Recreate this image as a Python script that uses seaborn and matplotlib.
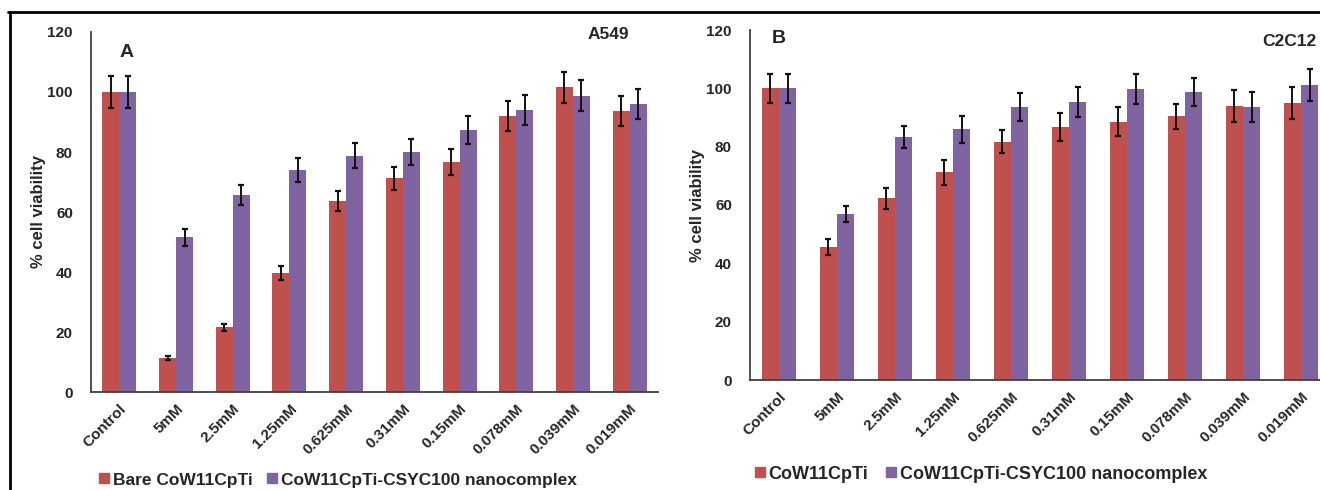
import numpy as np
import pandas as pd
import matplotlib
matplotlib.use("Agg")
import matplotlib.pyplot as plt
import seaborn as sns
from matplotlib.lines import Line2D

concs = ["Control", "5mM", "2.5mM", "1.25mM", "0.625mM", "0.31mM",
         "0.15mM", "0.078mM", "0.039mM", "0.019mM"]

# panel A - A549
a_bare = [100, 11.4, 21.6, 39.6, 63.7, 71.2, 76.6, 92.1, 101.6, 93.7]
a_bare_err = [5.2, 0.7, 1.2, 2.3, 3.4, 3.9, 4.3, 5.0, 5.2, 5.0]
a_nano = [100, 51.6, 65.7, 74.0, 78.8, 80.1, 87.3, 93.9, 98.7, 96.0]
a_nano_err = [5.2, 2.8, 3.4, 4.0, 4.1, 4.3, 4.7, 5.0, 5.2, 5.0]

# panel B - C2C12
b_bare = [100, 45.5, 62.3, 71.3, 81.7, 86.8, 88.5, 90.5, 93.8, 95.0]
b_bare_err = [5.0, 2.7, 3.5, 4.3, 4.0, 4.8, 5.0, 4.3, 5.5, 5.5]
b_nano = [100, 56.8, 83.3, 86.0, 93.6, 95.3, 99.8, 98.8, 93.6, 101.0]
b_nano_err = [5.0, 2.7, 3.8, 4.6, 4.7, 5.2, 5.0, 4.7, 5.0, 5.5]

red = "#C0504D"
purple = "#8064A2"

sns.set_style("white")
plt.rcParams["font.family"] = ["Liberation Sans", "DejaVu Sans"]
plt.rcParams["font.weight"] = "bold"

fig = plt.figure(figsize=(13.2, 4.9), dpi=100)
axA = fig.add_axes([91 / 1320, 0.2, 567 / 1320, 360 / 490])
axB = fig.add_axes([750 / 1320, 110 / 490, 580 / 1320, 350 / 490])


def panel(ax, bare, bare_err, nano, nano_err, names):
    df = pd.DataFrame({
        "conc": concs * 2,
        "series": [names[0]] * len(concs) + [names[1]] * len(concs),
        "value": bare + nano,
    })
    sns.barplot(data=df, x="conc", y="value", hue="series", order=concs,
                palette=[red, purple], width=0.6, saturation=1, linewidth=0,
                errorbar=None, legend=False, ax=ax)
    for cont, err in zip(ax.containers, [bare_err, nano_err]):
        xs = [b.get_x() + b.get_width() / 2 for b in cont]
        ys = [b.get_height() for b in cont]
        ax.errorbar(xs, ys, yerr=err, fmt="none", ecolor="#111111",
                    elinewidth=1.4, capsize=2.5, capthick=1.6)
    ax.set_ylim(0, 120)
    ax.set_xlim(-0.5, 9.5)
    ax.set_yticks(range(0, 121, 20))
    ax.set_xticks(np.arange(-0.5, 9.6, 1.0), minor=True)
    ax.tick_params(axis="x", which="major", length=0, pad=7)
    ax.tick_params(axis="x", which="minor", length=4, width=1, color="#404040", direction="out")
    ax.tick_params(axis="y", length=4, width=1, color="#404040", direction="out", pad=9)
    ax.set_xticks(range(len(concs)))
    ax.set_xticklabels(concs, rotation=45, ha="right", rotation_mode="anchor",
                       fontsize=11, fontweight="bold")
    for lab in ax.get_yticklabels():
        lab.set_fontsize(11)
        lab.set_fontweight("bold")
    for s in ["top", "right"]:
        ax.spines[s].set_visible(False)
    for s in ["left", "bottom"]:
        ax.spines[s].set_color("#404040")
        ax.spines[s].set_linewidth(1.3)
    ax.set_xlabel("")
    ax.set_ylabel("% cell viability", fontsize=12, fontweight="bold", labelpad=1)


panel(axA, a_bare, a_bare_err, a_nano, a_nano_err,
      ["Bare CoW11CpTi", "CoW11CpTi-CSYC100 nanocomplex"])
panel(axB, b_bare, b_bare_err, b_nano, b_nano_err,
      ["CoW11CpTi", "CoW11CpTi-CSYC100 nanocomplex"])

axA.text(0.12, 113, "A", fontsize=14, fontweight="bold", ha="center", va="center")
axA.text(8.62, 119, "A549", fontsize=12.5, fontweight="bold", ha="center", va="center")
axB.text(0.0, 117, "B", fontsize=14, fontweight="bold", ha="center", va="center")
axB.text(8.8, 116, "C2C12", fontsize=12.5, fontweight="bold", ha="center", va="center")


def sq(c):
    return Line2D([], [], marker="s", linestyle="none", markersize=7,
                  markerfacecolor=c, markeredgecolor=c)


fig.legend([sq(red), sq(purple)], ["Bare CoW11CpTi", "CoW11CpTi-CSYC100 nanocomplex"],
           loc="center left", bbox_to_anchor=(91 / 1320, 1 - 480 / 490), ncol=2,
           frameon=False, fontsize=12.5, handlelength=0.5, handletextpad=0.25,
           columnspacing=0.9, borderpad=0)
fig.legend([sq(red), sq(purple)], ["CoW11CpTi", "CoW11CpTi-CSYC100 nanocomplex"],
           loc="center left", bbox_to_anchor=(746 / 1320, 1 - 474 / 490), ncol=2,
           frameon=False, fontsize=13, handlelength=0.5, handletextpad=0.25,
           columnspacing=1.0, borderpad=0)

# outer frame (top and left edges)
fig.add_artist(Line2D([8 / 1320, 1], [1 - 12 / 490, 1 - 12 / 490], color="black", lw=2,
                      transform=fig.transFigure))
fig.add_artist(Line2D([10 / 1320, 10 / 1320], [0, 1 - 12 / 490], color="black", lw=2,
                      transform=fig.transFigure))

fig.savefig("out.png", dpi=100)
